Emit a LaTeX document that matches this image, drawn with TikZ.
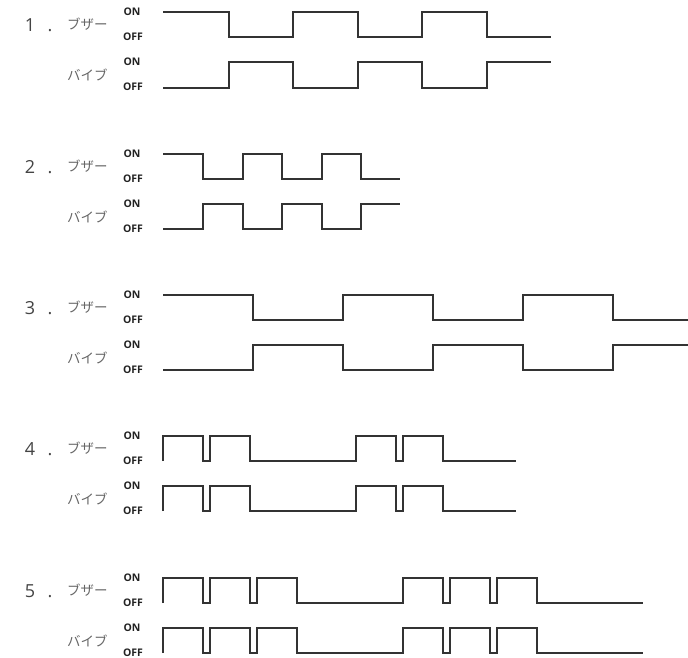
\documentclass[tikz,border=0pt]{standalone}
\usepackage{fontspec}
\setmainfont{Open Sans}
\newfontfamily\jpfont{Noto Sans CJK JP}
\definecolor{wavecol}{HTML}{333333}
\definecolor{labcol}{HTML}{222222}
\definecolor{numcol}{HTML}{444444}
\definecolor{jpcol}{HTML}{666666}
\tikzset{
  wave/.style={draw=wavecol, line width=1.2pt, line join=miter},
  onoff/.style={font=\fontsize{10.5}{10.5}\selectfont\bfseries, text=labcol, inner sep=0pt},
  numlab/.style={font=\fontsize{18}{18}\selectfont, text=numcol, inner sep=0pt, anchor=base},
  jplab/.style={font=\jpfont\fontsize{13.5}{13.5}\selectfont, text=jpcol, inner sep=0pt, anchor=west},
}
\begin{document}
\begin{tikzpicture}[x=1pt,y=-1pt]
\useasboundingbox (0,0) rectangle (688,657);
% labels
\foreach \n/\y in {1/12,2/154,3/295,4/436,5/578}{
  \node[numlab] (num\n) at (30,\y+19.5) {\n};
  \node[numlab] (dot\n) at (50,\y+19.5) {.};
  \node[jplab] (bz\n) at (67,\y+12) {ブザー};
  \node[jplab] (vb\n) at (67,\y+63) {バイブ};
  \node[onoff] (on\n a) at (132,\y) {ON};
  \node[onoff] (off\n a) at (133,\y+25) {OFF};
  \node[onoff] (on\n b) at (132,\y+50) {ON};
  \node[onoff] (off\n b) at (133,\y+75) {OFF};
}
% 1
\draw[wave] (163,12) -| (229,37) -| (293,12) -| (358,37) -| (422,12) -| (487,37) -- (551,37);
\draw[wave] (163,88) -| (229,62) -| (293,88) -| (358,62) -| (422,88) -| (487,62) -- (551,62);
% 2
\draw[wave] (163,154) -| (203,179) -| (243,154) -| (282,179) -| (322,154) -| (361,179) -- (400,179);
\draw[wave] (163,229) -| (203,204) -| (243,229) -| (282,204) -| (322,229) -| (361,204) -- (400,204);
% 3
\draw[wave] (163,295) -| (253,320) -| (343,295) -| (433,320) -| (523,295) -| (613,320) -- (688,320);
\draw[wave] (163,370) -| (253,345) -| (343,370) -| (433,345) -| (523,370) -| (613,345) -- (688,345);
% 4
\draw[wave] (163,461) -- (163,436) -| (203,461) -| (210,436) -| (250,461) -| (356,436) -| (396,461) -| (403,436) -| (443,461) -- (516,461);
\draw[wave] (163,511) -- (163,486) -| (203,511) -| (210,486) -| (250,511) -| (356,486) -| (396,511) -| (403,486) -| (443,511) -- (516,511);
% 5
\draw[wave] (163,603) -- (163,578) -| (203,603) -| (210,578) -| (250,603) -| (257,578) -| (297,603) -| (403,578) -| (443,603) -| (450,578) -| (490,603) -| (497,578) -| (537,603) -- (643,603);
\draw[wave] (163,653) -- (163,628) -| (203,653) -| (210,628) -| (250,653) -| (257,628) -| (297,653) -| (403,628) -| (443,653) -| (450,628) -| (490,653) -| (497,628) -| (537,653) -- (643,653);
\end{tikzpicture}
\end{document}
